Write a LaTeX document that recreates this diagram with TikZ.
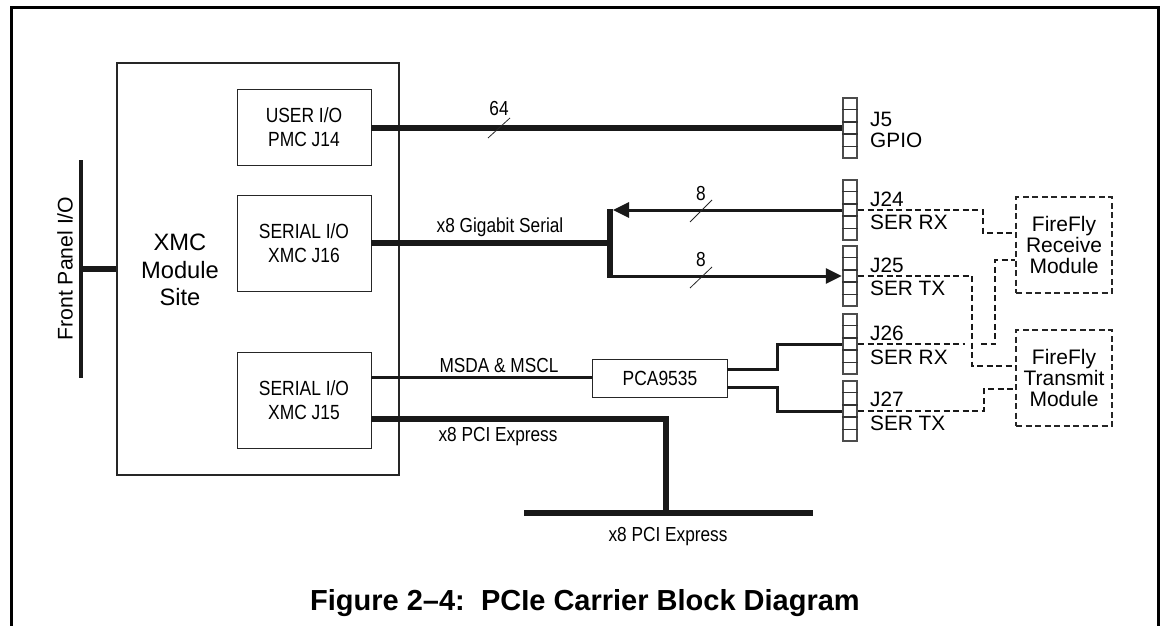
\documentclass[tikz,border=0pt]{standalone}
\usepackage{fontspec}
\setmainfont{Liberation Sans}
\newfontfamily\narrowfont[FakeStretch=0.85]{Liberation Sans}
\usetikzlibrary{arrows.meta,positioning,calc}

\begin{document}
\begin{tikzpicture}[
        x=1pt,y=-1pt,
        box/.style={rectangle,draw=black!85,line width=0.9pt,inner sep=0pt,align=center,font=\narrowfont\fontsize{20.5}{24.5}\selectfont},
        modbox/.style={rectangle,draw=black!85,dashed,dash pattern=on 6pt off 3.5pt,line width=1.4pt,minimum width=96pt,minimum height=96pt,inner sep=0pt,align=center,font=\fontsize{21}{21}\selectfont},
        conn/.style={rectangle,draw=black!70,line width=1.8pt,minimum width=14.5pt,minimum height=60pt,inner sep=0pt},
        lbl/.style={inner sep=0pt,align=center,font=\narrowfont\fontsize{20.3}{22}\selectfont},
        pinlbl/.style={inner sep=0pt,anchor=west,font=\fontsize{20.8}{22}\selectfont},
        bus/.style={line width=5.2pt,black!90},
        wire/.style={line width=3pt,black!90},
        arrow/.style={wire,-{Triangle[length=16pt,width=15pt]}},
        dashwire/.style={line width=1.4pt,dash pattern=on 6pt off 3.5pt,black!90},
        tick/.style={line width=0.8pt,black!85}
    ]
        \useasboundingbox (0,0) rectangle (1160,626);
        % outer frame, open at the bottom
        \draw[line width=3pt] (11,626) -- (11,7.5) -- (1158.5,7.5) -- (1158.5,626);

        \node[rectangle,draw=black!85,line width=1.6pt,minimum width=282pt,minimum height=412pt] (xmc) at (258,269) {};
        \node[inner sep=0pt,align=center,font=\fontsize{23.7}{27.5}\selectfont] (site) at (180,270) {XMC\\Module\\Site};

        \node[box,minimum width=134pt,minimum height=76pt] (user) at (304,127) {USER I/O\\PMC J14};
        \node[box,minimum width=134pt,minimum height=96pt] (ser16) at (304,243) {SERIAL I/O\\XMC J16};
        \node[box,minimum width=134pt,minimum height=96pt] (ser15) at (304,400) {SERIAL I/O\\XMC J15};
        \node[box,minimum width=135pt,minimum height=38pt] (pca) at (660,378) {PCA9535};

        % connectors
        \foreach \name/\ypos in {j5/128,j24/210,j25/276,j26/344,j27/411}{
            \node[conn] (\name) at (850,\ypos) {};
            \foreach \k in {1,2,3,4}
                \draw[line width=1.4pt,black!80] ($(\name.north west)!\k/5!(\name.south west)$) -- ($(\name.north east)!\k/5!(\name.south east)$);
        }

        \node[pinlbl] (j5a) at (870,119) {J5};
        \node[pinlbl] (j5b) at (870,140) {GPIO};
        \node[pinlbl] (j24a) at (870,199) {J24};
        \node[pinlbl] (j24b) at (870,222) {SER RX};
        \node[pinlbl] (j25a) at (870,265) {J25};
        \node[pinlbl] (j25b) at (870,288) {SER TX};
        \node[pinlbl] (j26a) at (870,333) {J26};
        \node[pinlbl] (j26b) at (870,357) {SER RX};
        \node[pinlbl] (j27a) at (870,399) {J27};
        \node[pinlbl] (j27b) at (870,423) {SER TX};

        \node[modbox] (receive) at (1064,245) {FireFly\\Receive\\Module};
        \node[modbox] (transmit) at (1064,378) {FireFly\\Transmit\\Module};

        % front panel
        \coordinate (panelt) at (81,160);
        \coordinate (panelb) at (81,378);
        \coordinate (panelm) at (81,269);
        \draw[line width=4pt,black!90] (panelt) -- (panelb);
        \draw[bus] (panelm) -- (xmc.west);
        \node[rotate=90,inner sep=0pt,font=\fontsize{21.2}{22}\selectfont] (panel) at (65,268.5) {Front Panel I/O};

        % upper buses
        \draw[bus] (user.east |- j5.west) -- (j5.west);
        \coordinate (split) at (610,243);
        \coordinate (splitt) at (610,209);
        \coordinate (splitb) at (610,278);
        \coordinate (rxtip) at (613,210);
        \coordinate (txfrom) at (610,276);
        \draw[line width=6pt,black!90] (ser16.east) -- (split);
        \draw[line width=6pt,black!90] (splitt) -- (splitb);
        \draw[arrow] (j24.west) -- (rxtip);
        \draw[arrow] (txfrom) -- (j25.west);

        % lower buses
        \coordinate (pcieb) at (666,513);
        \coordinate (buswest) at (524,513);
        \coordinate (buseast) at (813,513);
        \coordinate (sda) at (371,377);
        \coordinate (pcies) at (371,419);
        \draw[wire] (sda) -- (sda -| pca.west);
        \draw[bus] (pcies) -| (pcieb);
        \draw[bus] (buswest) -- (buseast);
        \coordinate (pcaup) at (727,369);
        \coordinate (pcadn) at (727,387);
        \draw[wire] (pcaup) -- (777,369) |- (j26.west);
        \draw[wire] (pcadn) -- (777,387) |- (j27.west);

        % dashed links to the modules
        \coordinate (rxa) at (983,233);
        \coordinate (rxb) at (995,260);
        \coordinate (txa) at (972,366);
        \coordinate (txb) at (984,389);
        \coordinate (hopa) at (965,344);
        \coordinate (hopb) at (981,344);
        \draw[dashwire] (j24.east) -| (rxa) -- (rxa -| receive.west);
        \draw[dashwire] (j26.east) -- (hopa);
        \draw[dashwire] (hopb) -| (rxb) -- (rxb -| receive.west);
        \draw[dashwire] (j25.east) -| (txa) -- (txa -| transmit.west);
        \draw[dashwire] (j27.east) -| (txb) -- (txb -| transmit.west);

        % width marks
        \draw[tick] (488,138) -- (510,118);
        \draw[tick] (690,222) -- (712,200);
        \draw[tick] (690,288) -- (712,267);
        \node[lbl] (w64) at (499,109) {64};
        \node[lbl] (w8a) at (701,194) {8};
        \node[lbl] (w8b) at (701,260) {8};

        \node[lbl] (gig) at (500,227) {x8 Gigabit Serial};
        \node[lbl] (msda) at (499,366) {MSDA \& MSCL};
        \node[lbl] (pcie) at (498,437) {x8 PCI Express};
        \node[lbl] (pciebus) at (668,537) {x8 PCI Express};

        \node[inner sep=0pt,font=\bfseries\fontsize{29}{32}\selectfont] (title) at (585,603) {Figure 2--4:\ \ PCIe Carrier Block Diagram};
    \end{tikzpicture}
\end{document}
